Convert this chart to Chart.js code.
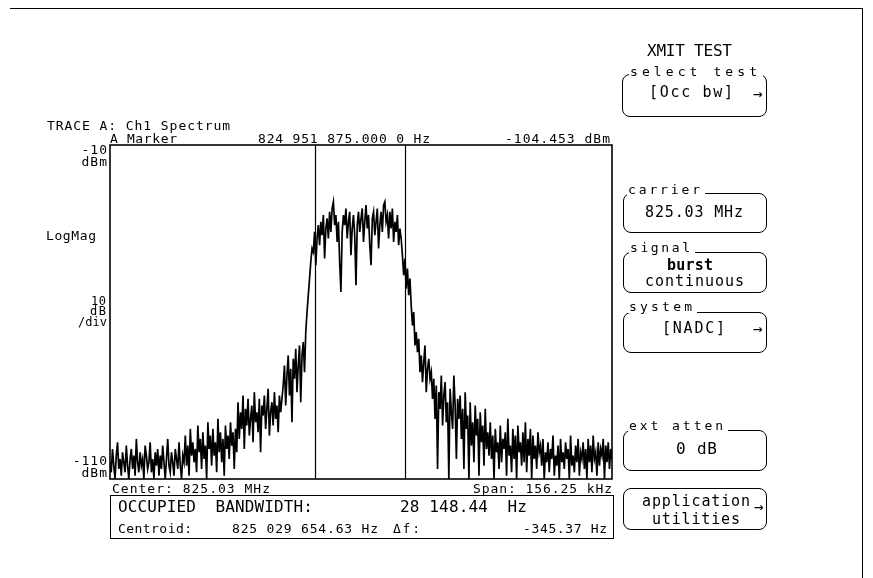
<!DOCTYPE html>
<html>
<head>
<meta charset="utf-8">
<script src="https://cdn.jsdelivr.net/npm/chart.js@4.4.1/dist/chart.umd.min.js"></script>
<style>
  body { margin: 0; background: #fff; }
  #wrap { position: relative; width: 873px; height: 578px; overflow: hidden; background: #fff; font-family: "DejaVu Sans Mono", monospace; color: #000; }
  #c { position: absolute; left: 0; top: 0; }
  .t { position: absolute; white-space: pre; line-height: 1; }
  .box { position: absolute; border: 1.5px solid #000; border-radius: 8px; box-sizing: border-box; }
  .rule { position: absolute; background: #000; }
</style>
</head>
<body>
<div id="wrap">
  <canvas id="c" width="873" height="578"></canvas>
</div>
<script>
// spectrum trace, dBm, 401 sweep points (left -> right)
const traceDbm = [
  // noise floor
  -105, -108, -101, -106, -110, -103, -99, -107, -104, -109, -102, -105, -108, -100, -106, -110, -104, -101, -107, -103,
  -109, -98, -105, -108, -102, -106, -104, -110, -100, -103, -107, -105, -99, -108, -104, -110, -102, -106, -101, -109,
  -103, -107, -100, -105, -110, -104, -98, -106, -108, -102, -105, -109, -101, -104, -107, -99, -106, -110, -103, -105,
  -97, -106, -100, -109, -95, -103, -99, -105, -101, -108, -94, -102, -98, -107, -96, -104, -100, -110, -93, -101,
  -97, -106, -95, -103, -99, -108, -92, -102, -96, -105, -98, -109, -94, -101, -97, -104, -93, -100, -96, -107, -95, -102,
  // lower skirt
  -87, -98, -90, -95, -85, -101, -89, -94, -86, -97, -92, -88, -99, -84, -93, -90, -96, -86,
  -102, -88, -91, -85, -95, -89, -83, -97, -90, -87, -94, -84, -92, -88, -96, -85, -90, -86,
  -82, -76, -88, -79, -73, -85, -77, -93, -74, -80, -71, -84, -76, -70, -87, -73, -69, -78,
  -66, -60, -55, -50, -45, -41,
  // channel
  -42, -36, -46, -38, -34,
  -40, -33, -37, -31, -44, -35,
  -32, -38, -30, -36, -29, -27,
  -34, -31, -39, -33, -45, -54,
  -36, -31, -34, -29, -38, -33,
  -30, -43, -35, -31, -37, -52,
  -34, -30, -36, -32, -29, -39,
  -33, -28, -35, -31, -40, -46,
  -32, -30, -37, -33, -29, -41,
  -34, -30, -36, -28, -27, -33,
  -31, -38, -30, -35, -29, -39,
  -33, -36, -31, -40, -35, -38,
  // upper skirt
  -43, -49, -44, -53, -47, -55, -50,
  -58, -64, -60, -70, -66,
  -72, -68, -78, -73, -81, -75, -70, -84, -77, -74, -80,
  -78, -86, -80, -92, -82, -107, -84, -89, -79, -94, -85,
  -81, -93, -87, -110, -83, -90, -95, -79, -88, -104, -86, -92,
  -85, -98, -89, -107, -84, -95, -91, -110, -87, -100, -93, -105, -88, -97, -92, -109, -90, -99, -94, -106, -89, -101, -96, -103,
  -93, -104, -97, -110, -95, -102, -99, -107, -94, -105, -98, -101, -96, -109, -92, -103, -100, -108, -95, -104,
  -97, -110, -94, -102, -99, -106, -96, -105, -93, -108, -98, -103, -95, -110, -97, -104, -100, -107, -96, -102,
  -100, -106, -98, -110, -102, -105, -99, -108, -101, -104, -97, -109, -103, -106, -100, -110, -98, -105, -102, -107,
  -99, -104, -101, -110, -97, -106, -103, -108, -100, -105, -98, -109, -102, -104, -99, -107, -101, -110, -98, -105,
  -100, -108, -97, -104, -102, -109, -99, -106, -101, -103, -98, -110, -100, -105, -99, -107, -101, -104
];
const centerHz = 825030000;
const spanHz = 156250;
const centroidHz = 825029654.63;
const occBwHz = 28148.44;
const yRange = [-110, -10];
const yTicks = [-10, -110];
const yTickText = [['', '', '-10', 'dBm'], ['-110', 'dBm', '', '']];

const wrap = document.getElementById('wrap');
const FAM = '"DejaVu Sans Mono", monospace';
const meas = document.createElement('canvas').getContext('2d');

// text from left x0 to right x1, sitting on baseline
function put(str, x0, x1, base, size, opts = {}) {
  const el = document.createElement('div');
  el.className = 't';
  el.textContent = str;
  const weight = opts.bold ? 'bold' : 'normal';
  meas.font = weight + ' ' + size + 'px ' + FAM;
  const w = meas.measureText(str).width;
  const n = [...str].length;
  const ls = n > 1 ? (x1 - x0 - w) / (n - 1) : 0;
  el.style.left = x0 + 'px';
  el.style.top = (base - 0.846 * size) + 'px';
  el.style.fontSize = size + 'px';
  el.style.fontWeight = weight;
  el.style.letterSpacing = ls + 'px';
  if (opts.bg) { el.style.background = '#fff'; el.style.padding = '0 2px 0 1px'; el.style.marginLeft = '-1px'; }
  wrap.appendChild(el);
}
function box(l, t, r, b, square) {
  const el = document.createElement('div');
  el.className = 'box';
  el.style.left = l + 'px'; el.style.top = t + 'px';
  el.style.width = (r - l) + 'px'; el.style.height = (b - t) + 'px';
  if (square) el.style.borderRadius = '0';
  wrap.appendChild(el);
}
function rule(l, t, w, h) {
  const el = document.createElement('div');
  el.className = 'rule';
  el.style.cssText = `left:${l}px;top:${t}px;width:${w}px;height:${h}px`;
  wrap.appendChild(el);
}

// screen frame
rule(10, 8, 853, 1);
rule(862, 8, 1, 570);

// trace annotations
put('TRACE A: Ch1 Spectrum', 47, 230, 130, 13);
put('A Marker', 110, 177, 143, 13);
put('824 951 875.000 0 Hz', 258, 430, 143, 13);
put('-104.453 dBm', 505, 610, 143, 13);
put('LogMag', 46, 96, 240, 13);
put('10', 91, 106, 305, 12);
put('dB', 90, 106, 315, 12);
put('/div', 78, 107, 326, 12);
put('Center: 825.03 MHz', 112, 270, 493, 13);
put('Span: 156.25 kHz', 473, 612, 493, 13);

box(110, 495, 614, 539, true);
put('OCCUPIED  BANDWIDTH:', 118, 313, 513, 16);
put('28 148.44  Hz', 400, 527, 513, 16);
put('Centroid:', 118, 192, 533, 13);
put('825 029 654.63 Hz', 232, 378, 533, 13);
put('\u0394f:', 393, 420, 533, 13);
put('-345.37 Hz', 523, 607, 533, 13);

// softkey panel
put('XMIT TEST', 647, 732, 57, 16);
box(622, 74, 767, 117);
put('select test', 630, 757, 76, 13, { bg: true });
put('[Occ bw]', 649, 733, 98, 15);
put('\u2192', 753, 765, 100, 16);

box(623, 193, 767, 233);
put('carrier', 628, 700, 194, 13, { bg: true });
put('825.03 MHz', 645, 743, 218, 15);

box(623, 252, 767, 293);
put('signal', 630, 690, 252, 13, { bg: true });
put('burst', 667, 713, 271, 15, { bold: true });
put('continuous', 645, 744, 287, 15);

box(623, 312, 767, 353);
put('system', 629, 692, 311, 13, { bg: true });
put('[NADC]', 662, 725, 334, 15);
put('\u2192', 753, 765, 335, 16);

box(623, 430, 767, 471);
put('ext atten', 629, 723, 430, 13, { bg: true });
put('0 dB', 676, 717, 455, 16);

box(623, 488, 767, 530);
put('application', 642, 750, 507, 15);
put('utilities', 652, 740, 525, 15);
put('\u2192', 754, 766, 513, 16);

// chart
const startHz = centerHz - spanHz / 2;
const stepHz = spanHz / (traceDbm.length - 1);
const points = traceDbm.map((v, i) => ({ x: startHz + i * stepHz, y: v }));

const framePlugin = {
  id: 'frame',
  beforeDraw(chart) { chart.ctx.letterSpacing = '1px'; },
  afterDatasetsDraw(chart) {
    const { ctx, chartArea: a, scales } = chart;
    ctx.save();
    ctx.letterSpacing = '0px';
    ctx.strokeStyle = '#000';
    ctx.lineWidth = 1.2;
    [centroidHz - occBwHz / 2, centroidHz + occBwHz / 2].forEach(f => {
      const x = Math.round(scales.x.getPixelForValue(f)) + 0.5;
      ctx.beginPath();
      ctx.moveTo(x, a.top);
      ctx.lineTo(x, a.bottom);
      ctx.stroke();
    });
    ctx.lineWidth = 1.6;
    ctx.strokeRect(a.left, a.top, a.right - a.left, a.bottom - a.top);
    ctx.restore();
  }
};

new Chart(document.getElementById('c'), {
  type: 'line',
  data: {
    datasets: [{
      data: points,
      borderColor: '#000',
      borderWidth: 1.7,
      pointRadius: 0,
      tension: 0,
      fill: false
    }]
  },
  options: {
    responsive: false,
    animation: false,
    events: [],
    layout: { padding: { left: 60, top: 145, right: 261, bottom: 99 } },
    plugins: { legend: { display: false }, tooltip: { enabled: false } },
    scales: {
      x: {
        type: 'linear',
        display: false,
        min: startHz,
        max: startHz + spanHz
      },
      y: {
        min: yRange[0],
        max: yRange[1],
        grid: { display: false, drawTicks: false },
        border: { display: false },
        afterFit(s) { s.width = 50; },
        afterBuildTicks(s) { s.ticks = yTicks.map(v => ({ value: v })); },
        ticks: {
          padding: 2,
          color: '#000',
          font: { family: 'DejaVu Sans Mono', size: 13, lineHeight: 0.9 },
          callback: (v, i) => yTickText[i]
        }
      }
    }
  },
  plugins: [framePlugin]
});
</script>
</body>
</html>
